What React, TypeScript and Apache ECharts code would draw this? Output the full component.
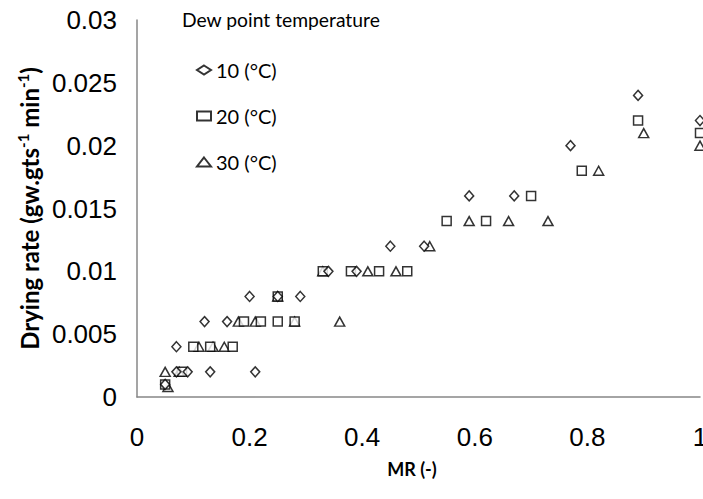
import React, { useEffect, useRef } from "react";
import * as echarts from "echarts";

const seriesNames = ["10 (°C)", "20 (°C)", "30 (°C)"];
const legendTitle = "Dew point temperature";
const xTicks = [0, 0.2, 0.4, 0.6, 0.8, 1];
const yTicks = [0, 0.005, 0.01, 0.015, 0.02, 0.025, 0.03];

const dew10: [number, number][] = [
  [0.05, 0.001], [0.07, 0.002], [0.09, 0.002], [0.13, 0.002], [0.21, 0.002],
  [0.07, 0.004], [0.12, 0.006], [0.16, 0.006], [0.2, 0.008], [0.25, 0.008],
  [0.29, 0.008], [0.34, 0.01], [0.39, 0.01], [0.45, 0.012], [0.51, 0.012],
  [0.59, 0.016], [0.67, 0.016], [0.77, 0.02], [0.89, 0.024], [1.0, 0.022],
];
const dew20: [number, number][] = [
  [0.05, 0.001], [0.08, 0.002], [0.1, 0.004], [0.13, 0.004], [0.17, 0.004],
  [0.19, 0.006], [0.22, 0.006], [0.25, 0.006], [0.28, 0.006], [0.25, 0.008],
  [0.33, 0.01], [0.38, 0.01], [0.43, 0.01], [0.48, 0.01], [0.55, 0.014],
  [0.62, 0.014], [0.7, 0.016], [0.79, 0.018], [0.89, 0.022], [1.0, 0.021],
];
const dew30: [number, number][] = [
  [0.055, 0.0008], [0.05, 0.002], [0.075, 0.002], [0.11, 0.004], [0.135, 0.004],
  [0.155, 0.004], [0.18, 0.006], [0.21, 0.006], [0.28, 0.006], [0.36, 0.006],
  [0.25, 0.008], [0.33, 0.01], [0.41, 0.01], [0.46, 0.01], [0.52, 0.012],
  [0.59, 0.014], [0.66, 0.014], [0.73, 0.014], [0.82, 0.018], [0.9, 0.021],
  [1.0, 0.02],
];

const seriesData = [dew10, dew20, dew30];
const symbols = ["diamond", "rect", "triangle"];
const symbolSizes: [number, number][] = [[9, 10], [9, 9], [10, 9]];

export default function App() {
  const ref = useRef<HTMLDivElement>(null);
  useEffect(() => {
    if (!ref.current) return;
    const chart = echarts.init(ref.current, undefined, { renderer: "svg" });
    const axisLine = { show: true, lineStyle: { color: "#878787", width: 1.5 } };
    const tickFont = { fontFamily: "Liberation Sans", fontSize: 26, color: "#000" };
    chart.setOption({
      animation: false,
      backgroundColor: "#fff",
      title: {
        text: legendTitle,
        left: 182,
        top: 10,
        padding: 0,
        textStyle: { fontFamily: "Lato", fontSize: 19.3, fontWeight: "normal", color: "#000" },
      },
      legend: {
        orient: "vertical",
        left: 196,
        top: 60,
        padding: 0,
        itemWidth: 14,
        itemHeight: 9,
        itemGap: 26,
        data: seriesNames,
        textStyle: { fontFamily: "Lato", fontSize: 20, color: "#000" },
      },
      grid: {
        left: 137,
        right: 3,
        top: 20,
        bottom: 102,
        containLabel: false,
        outerBoundsMode: "none",
      },
      xAxis: {
        type: "value",
        min: xTicks[0],
        max: xTicks[xTicks.length - 1],
        interval: 0.2,
        axisLine,
        axisTick: { show: false },
        splitLine: { show: false },
        axisLabel: { ...tickFont, margin: 27, formatter: (v: number) => String(+v.toFixed(1)) },
        name: "MR (-)",
        nameLocation: "middle",
        nameGap: 63,
        nameTextStyle: {
          fontFamily: "Lato",
          fontWeight: "bold",
          fontSize: 18,
          color: "#000",
          padding: [0, 13, 0, 0],
        },
      },
      yAxis: {
        type: "value",
        min: yTicks[0],
        max: yTicks[yTicks.length - 1],
        interval: 0.005,
        axisLine,
        axisTick: { show: false },
        splitLine: { show: false },
        axisLabel: { ...tickFont, margin: 20, formatter: (v: number) => String(+v.toFixed(3)) },
        name: "{a|Drying rate (gw.gts}{s|-1}{a| min}{s|-1}{a|)}",
        nameLocation: "middle",
        nameGap: 93,
        nameTextStyle: {
          color: "#000",
          rich: {
            a: { fontFamily: "Lato", fontWeight: "bold", fontSize: 24, lineHeight: 28, color: "#000" },
            s: { fontFamily: "Lato", fontWeight: "bold", fontSize: 15, lineHeight: 16, verticalAlign: "top", color: "#000" },
          },
        },
      },
      series: seriesData.map((d, i) => ({
        name: seriesNames[i],
        type: "scatter",
        data: d,
        symbol: symbols[i],
        symbolSize: symbolSizes[i],
        clip: false,
        itemStyle: { color: "#fff", borderColor: "#000", borderWidth: 1.5 },
        z: 3 - i,
      })),
    });
    return () => chart.dispose();
  }, []);
  return (
    <div
      ref={ref}
      style={{ position: "fixed", left: 0, top: 0, width: 703, height: 499 }}
    />
  );
}
